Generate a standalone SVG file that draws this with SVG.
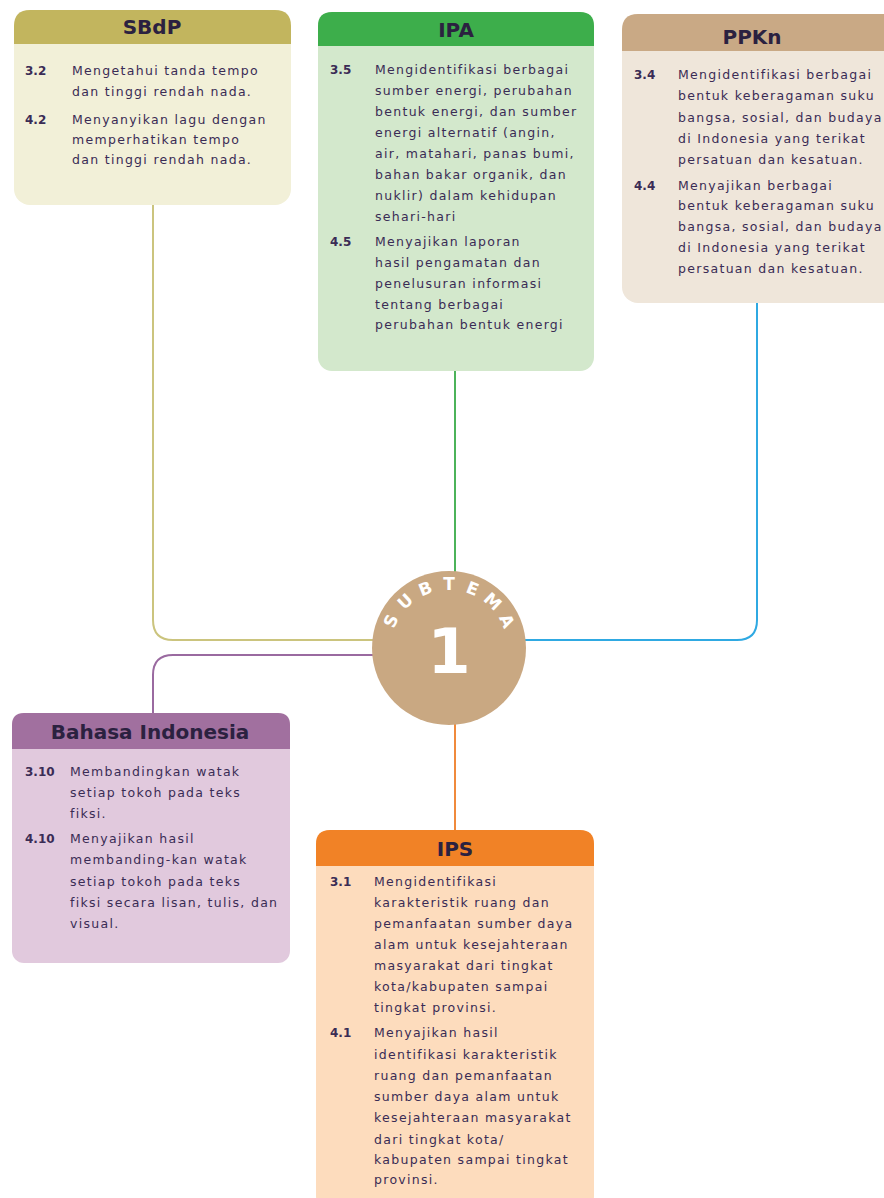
<svg xmlns="http://www.w3.org/2000/svg" width="884" height="1198" viewBox="0 0 884 1198">
  <defs>
    <style>
      .title { font-family: "DejaVu Sans", "Liberation Sans", sans-serif; font-size: 20px; font-weight: bold; fill: #2b2140; text-anchor: middle; }
      .body { font-family: "DejaVu Sans", "Liberation Sans", sans-serif; font-size: 12.5px; letter-spacing: 1.3px; fill: #3a2c55; }
      .num { font-family: "DejaVu Sans", "Liberation Sans", sans-serif; font-size: 12px; font-weight: bold; fill: #3a2c55; }
      .link { fill: none; stroke-width: 2; }
      .hub-text { font-family: "DejaVu Sans", "Liberation Sans", sans-serif; font-weight: bold; fill: #ffffff; text-anchor: middle; }
      .arc-letter { font-size: 17px; }
    </style>
  </defs>

  <rect width="884" height="1198" fill="#ffffff"/>

  <!-- connectors -->
  <g id="connectors">
    <path class="link" stroke="#cbc47e" d="M 153 205 V 620 Q 153 640 173 640 H 380"/>
    <path class="link" stroke="#9a6aa0" d="M 380 655 H 173 Q 153 655 153 675 V 713"/>
    <path class="link" stroke="#4cb35a" d="M 455 371 V 575"/>
    <path class="link" stroke="#2fa9e2" d="M 757 303 V 620 Q 757 640 737 640 H 520"/>
    <path class="link" stroke="#f08a3c" d="M 455 720 V 830"/>
  </g>

  <!-- SBdP -->
  <g id="node-sbdp">
    <rect x="14" y="10" width="277" height="195" rx="16" fill="#f2f0d8"/>
    <path d="M 14 44 V 26 Q 14 10 30 10 H 275 Q 291 10 291 26 V 44 Z" fill="#c2b55e"/>
    <text class="title" x="152" y="34">SBdP</text>
    <text class="num" x="25" y="75">3.2</text>
    <text class="body" x="72" y="75">Mengetahui tanda tempo</text>
    <text class="body" x="72" y="96">dan tinggi rendah nada.</text>
    <text class="num" x="25" y="124">4.2</text>
    <text class="body" x="72" y="124">Menyanyikan lagu dengan</text>
    <text class="body" x="72" y="144">memperhatikan tempo</text>
    <text class="body" x="72" y="164">dan tinggi rendah nada.</text>
  </g>

  <!-- IPA -->
  <g id="node-ipa">
    <rect x="318" y="12" width="276" height="359" rx="14" fill="#d3e8cc"/>
    <path d="M 318 46 V 26 Q 318 12 332 12 H 580 Q 594 12 594 26 V 46 Z" fill="#3dae4b"/>
    <text class="title" x="456" y="37">IPA</text>
    <text class="num" x="330" y="74">3.5</text>
    <text class="body" x="375" y="74">Mengidentifikasi berbagai</text>
    <text class="body" x="375" y="95">sumber energi, perubahan</text>
    <text class="body" x="375" y="116">bentuk energi, dan sumber</text>
    <text class="body" x="375" y="137">energi alternatif (angin,</text>
    <text class="body" x="375" y="158">air, matahari, panas bumi,</text>
    <text class="body" x="375" y="179">bahan bakar organik, dan</text>
    <text class="body" x="375" y="200">nuklir) dalam kehidupan</text>
    <text class="body" x="375" y="221">sehari-hari</text>
    <text class="num" x="330" y="246">4.5</text>
    <text class="body" x="375" y="246">Menyajikan laporan</text>
    <text class="body" x="375" y="267">hasil pengamatan dan</text>
    <text class="body" x="375" y="288">penelusuran informasi</text>
    <text class="body" x="375" y="309">tentang berbagai</text>
    <text class="body" x="375" y="329">perubahan bentuk energi</text>
  </g>

  <!-- PPKn -->
  <g id="node-ppkn">
    <rect x="622" y="14" width="276" height="289" rx="16" fill="#efe6da"/>
    <path d="M 622 51 V 30 Q 622 14 638 14 H 884 V 51 Z" fill="#c9a985"/>
    <text class="title" x="752" y="44">PPKn</text>
    <text class="num" x="634" y="79">3.4</text>
    <text class="body" x="678" y="79">Mengidentifikasi berbagai</text>
    <text class="body" x="678" y="100">bentuk keberagaman suku</text>
    <text class="body" x="678" y="122">bangsa, sosial, dan budaya</text>
    <text class="body" x="678" y="143">di Indonesia yang terikat</text>
    <text class="body" x="678" y="164">persatuan dan kesatuan.</text>
    <text class="num" x="634" y="190">4.4</text>
    <text class="body" x="678" y="190">Menyajikan berbagai</text>
    <text class="body" x="678" y="210">bentuk keberagaman suku</text>
    <text class="body" x="678" y="231">bangsa, sosial, dan budaya</text>
    <text class="body" x="678" y="252">di Indonesia yang terikat</text>
    <text class="body" x="678" y="273">persatuan dan kesatuan.</text>
  </g>

  <!-- Bahasa Indonesia -->
  <g id="node-bahasa">
    <rect x="12" y="713" width="278" height="250" rx="12" fill="#e1c9dd"/>
    <path d="M 12 749 V 725 Q 12 713 24 713 H 278 Q 290 713 290 725 V 749 Z" fill="#a1709f"/>
    <text class="title" x="150" y="739">Bahasa Indonesia</text>
    <text class="num" x="25" y="776">3.10</text>
    <text class="body" x="70" y="776">Membandingkan watak</text>
    <text class="body" x="70" y="797">setiap tokoh pada teks</text>
    <text class="body" x="70" y="818">fiksi.</text>
    <text class="num" x="25" y="843">4.10</text>
    <text class="body" x="70" y="843">Menyajikan hasil</text>
    <text class="body" x="70" y="864">membanding-kan watak</text>
    <text class="body" x="70" y="886">setiap tokoh pada teks</text>
    <text class="body" x="70" y="907">fiksi secara lisan, tulis, dan</text>
    <text class="body" x="70" y="928">visual.</text>
  </g>

  <!-- IPS -->
  <g id="node-ips">
    <rect x="316" y="830" width="278" height="380" rx="14" fill="#fddcbd"/>
    <path d="M 316 866 V 844 Q 316 830 330 830 H 580 Q 594 830 594 844 V 866 Z" fill="#f18226"/>
    <text class="title" x="455" y="856">IPS</text>
    <text class="num" x="330" y="886">3.1</text>
    <text class="body" x="374" y="886">Mengidentifikasi</text>
    <text class="body" x="374" y="907">karakteristik ruang dan</text>
    <text class="body" x="374" y="928">pemanfaatan sumber daya</text>
    <text class="body" x="374" y="949">alam untuk kesejahteraan</text>
    <text class="body" x="374" y="970">masyarakat dari tingkat</text>
    <text class="body" x="374" y="991">kota/kabupaten sampai</text>
    <text class="body" x="374" y="1012">tingkat provinsi.</text>
    <text class="num" x="330" y="1037">4.1</text>
    <text class="body" x="374" y="1037">Menyajikan hasil</text>
    <text class="body" x="374" y="1059">identifikasi karakteristik</text>
    <text class="body" x="374" y="1080">ruang dan pemanfaatan</text>
    <text class="body" x="374" y="1101">sumber daya alam untuk</text>
    <text class="body" x="374" y="1122">kesejahteraan masyarakat</text>
    <text class="body" x="374" y="1144">dari tingkat kota/</text>
    <text class="body" x="374" y="1164">kabupaten sampai tingkat</text>
    <text class="body" x="374" y="1184">provinsi.</text>
  </g>

  <!-- hub: Subtema 1, letters set one by one round the top of the disc -->
  <g id="node-subtema">
    <circle cx="449" cy="648" r="77" fill="#c9a882"/>
    <g class="hub-text arc-letter">
      <text x="449" y="590" transform="rotate(-65 449 648)">S</text>
      <text x="449" y="590" transform="rotate(-43.3 449 648)">U</text>
      <text x="449" y="590" transform="rotate(-21.7 449 648)">B</text>
      <text x="449" y="590">T</text>
      <text x="449" y="590" transform="rotate(21.7 449 648)">E</text>
      <text x="449" y="590" transform="rotate(43.3 449 648)">M</text>
      <text x="449" y="590" transform="rotate(65 449 648)">A</text>
    </g>
    <text class="hub-text" x="449" y="673" font-size="62">1</text>
  </g>
</svg>
